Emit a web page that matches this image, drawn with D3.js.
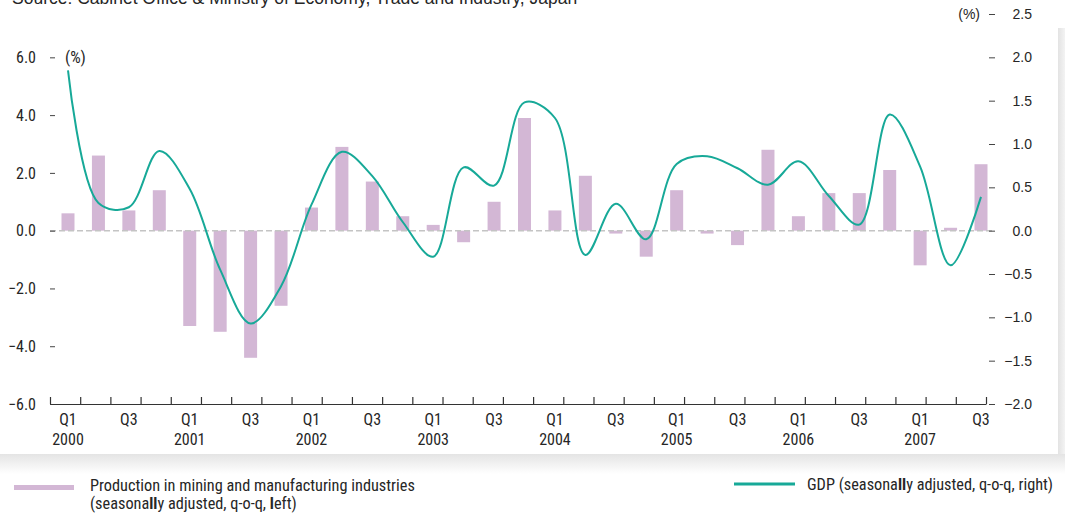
<!DOCTYPE html>
<html><head><meta charset="utf-8">
<script src="https://cdn.jsdelivr.net/npm/d3@7"></script>
<style>body{margin:0;background:#fff}svg{display:block}</style>
</head><body><svg id="c" width="1065" height="514"></svg>
<script>
const quarters = [
  "2000 Q1","2000 Q2","2000 Q3","2000 Q4",
  "2001 Q1","2001 Q2","2001 Q3","2001 Q4",
  "2002 Q1","2002 Q2","2002 Q3","2002 Q4",
  "2003 Q1","2003 Q2","2003 Q3","2003 Q4",
  "2004 Q1","2004 Q2","2004 Q3","2004 Q4",
  "2005 Q1","2005 Q2","2005 Q3","2005 Q4",
  "2006 Q1","2006 Q2","2006 Q3","2006 Q4",
  "2007 Q1","2007 Q2","2007 Q3"
];
const production = [
  0.6, 2.6, 0.7, 1.4,
  -3.3, -3.5, -4.4, -2.6,
  0.8, 2.9, 1.7, 0.5,
  0.2, -0.4, 1.0, 3.9,
  0.7, 1.9, -0.1, -0.9,
  1.4, -0.1, -0.5, 2.8,
  0.5, 1.3, 1.3, 2.1,
  -1.2, 0.1, 2.3
];
const gdp = [
  1.85, 0.32, 0.27, 0.92,
  0.48, -0.45, -1.07, -0.64,
  0.30, 0.91, 0.63, 0.10,
  -0.30, 0.73, 0.52, 1.48,
  1.30, -0.28, 0.31, -0.10,
  0.77, 0.86, 0.72, 0.53,
  0.80, 0.40, 0.07, 1.34,
  0.74, -0.40, 0.39
];
const leftTicks = [-6, -4, -2, 0, 2, 4, 6];
const rightTicks = [-2, -1.5, -1, -0.5, 0, 0.5, 1, 1.5, 2, 2.5];
const sourceText = "Source: Cabinet Office & Ministry of Economy, Trade and Industry, Japan";
const legendProduction = ["Production in mining and manufacturing industries", "(seasonally adjusted, q-o-q, left)"];
const legendGdp = "GDP (seasonally adjusted, q-o-q, right)";

const NARROW = "'Liberation Sans Narrow','Arial Narrow','Roboto Condensed',sans-serif";
const REG = "'Liberation Sans',Arial,sans-serif";
const BAR = "#d3b7d5", LINE = "#17a998", TXT = "#262626";

const svg = d3.select("#c");
const defs = svg.append("defs");
const gR = defs.append("linearGradient").attr("id","shR").attr("x1",0).attr("x2",1).attr("y1",0).attr("y2",0);
gR.append("stop").attr("offset",0).attr("stop-color","#e3e3e3");
gR.append("stop").attr("offset",1).attr("stop-color","#f3f3f3");
const gB = defs.append("linearGradient").attr("id","shB").attr("x1",0).attr("x2",0).attr("y1",0).attr("y2",1);
gB.append("stop").attr("offset",0).attr("stop-color","#e4e4e4");
gB.append("stop").attr("offset",1).attr("stop-color","#ffffff");

// card shadow
svg.append("rect").attr("x",1058).attr("y",28).attr("width",7).attr("height",430).attr("fill","url(#shR)");
svg.append("rect").attr("x",0).attr("y",454).attr("width",1065).attr("height",20).attr("fill","url(#shB)");
svg.append("rect").attr("x",0).attr("y",0).attr("width",1058).attr("height",454).attr("fill","#fff");

// scales
const yL = d3.scaleLinear().domain([-6, 7.5]).range([404, 14]);
const yR = d3.scaleLinear().domain([-2, 2.5]).range([404, 14]);
const x = d3.scalePoint().domain(quarters).range([68, 981]);
const xTick = d3.scaleLinear().domain([0, quarters.length]).range([50, 986]);
const barW = 13;

// source
svg.append("text").attr("x",12).attr("y",4).attr("font-family",REG).attr("font-size",17.5)
  .attr("fill",TXT).text(sourceText);

// bars
svg.append("g").selectAll("rect").data(quarters).join("rect")
  .attr("x", q => x(q) - barW/2)
  .attr("width", barW)
  .attr("y", (q,i) => yL(Math.max(0, production[i])))
  .attr("height", (q,i) => Math.abs(yL(production[i]) - yL(0)))
  .attr("fill", BAR);

// zero line
svg.append("line").attr("x1",50).attr("x2",992).attr("y1",yL(0)).attr("y2",yL(0))
  .attr("stroke","#c4c4c4").attr("stroke-width",1.5).attr("stroke-dasharray","6,3");

// left axis
const axL = svg.append("g").attr("transform","translate(55,0)")
  .call(d3.axisLeft(yL).tickValues(leftTicks).tickSize(5).tickPadding(14).tickFormat(d3.format(".1f")));
axL.select(".domain").remove();
axL.selectAll("line").attr("stroke","#444");
axL.selectAll("text").attr("font-family",NARROW).attr("font-size",16).attr("fill",TXT);
svg.append("text").attr("x",65).attr("y",yL(6)).attr("dy","0.35em").attr("font-family",NARROW)
  .attr("font-size",16.5).attr("fill",TXT).text("(%)");

// right axis
const axR = svg.append("g").attr("transform","translate(989,0)")
  .call(d3.axisRight(yR).tickValues(rightTicks).tickSize(6).tickFormat(d3.format(".1f")));
axR.select(".domain").remove();
axR.selectAll("line").attr("stroke","#444");
axR.selectAll("text").attr("x",43).attr("text-anchor","end").attr("font-family",REG)
  .attr("font-size",14).attr("fill",TXT);
svg.append("text").attr("x",980).attr("y",yR(2.5)).attr("dy","0.35em").attr("text-anchor","end")
  .attr("font-family",REG).attr("font-size",14).attr("fill",TXT).text("(%)");

// x axis
const axB = svg.append("g").attr("transform","translate(0,404)")
  .call(d3.axisBottom(xTick).tickValues(d3.range(0, quarters.length + 1)).tickSize(-7).tickSizeOuter(0).tickFormat(""));
axB.selectAll("line,path").attr("stroke","#333").attr("stroke-width",1.2);

const lab = svg.append("g").attr("font-family",NARROW).attr("font-size",16).attr("fill",TXT).attr("text-anchor","middle");
quarters.forEach(q => {
  const [yr, qq] = q.split(" ");
  if (qq === "Q1" || qq === "Q3") lab.append("text").attr("x", x(q)).attr("y", 425).text(qq);
  if (qq === "Q1") lab.append("text").attr("x", x(q)).attr("y", 445).text(yr);
});

// GDP line
const line = d3.line().x((d,i) => x(quarters[i])).y(d => yR(d)).curve(d3.curveCatmullRom.alpha(0.5));
svg.append("path").datum(gdp).attr("d", line).attr("fill","none").attr("stroke",LINE).attr("stroke-width",2);

// legend
svg.append("rect").attr("x",14).attr("y",485).attr("width",60).attr("height",5).attr("fill",BAR);
const lg = svg.append("g").attr("font-family",NARROW).attr("font-size",16.3).attr("fill",TXT);
lg.append("text").attr("x",90).attr("y",491).text(legendProduction[0]);
function boldLL(sel, s) {
  // reproduce the heavier "l" glyphs seen in the reference
  const parts = s.split(/(ll|l(?=eft))/);
  parts.forEach(p => { if (!p) return; const t = sel.append("tspan").text(p); if (p === "ll" || p === "l") t.attr("font-weight","bold"); });
}
boldLL(lg.append("text").attr("x",90).attr("y",509), legendProduction[1]);
svg.append("line").attr("x1",734).attr("x2",795).attr("y1",484).attr("y2",484).attr("stroke",LINE).attr("stroke-width",3);
boldLL(lg.append("text").attr("x",807).attr("y",490), legendGdp);
</script></body></html>
